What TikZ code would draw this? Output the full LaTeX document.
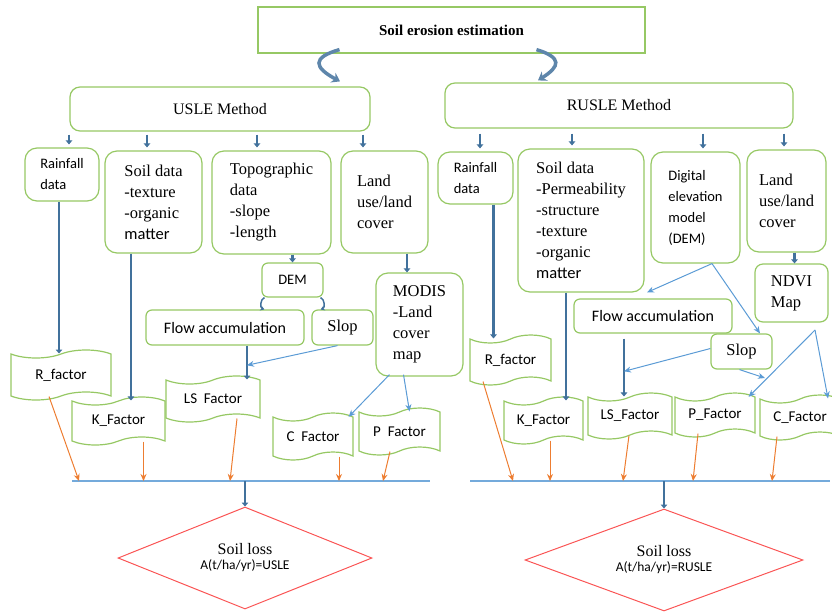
\documentclass[tikz,border=0pt]{standalone}
\usepackage{fontspec}
\setmainfont{Liberation Serif}
\setsansfont{Carlito}
\usetikzlibrary{shapes.geometric,shapes.symbols,arrows.meta}
\definecolor{boxgreen}{RGB}{150,200,100}
\definecolor{fatblue}{RGB}{65,113,156}
\definecolor{linkblue}{RGB}{91,155,213}
\definecolor{feedorange}{RGB}{237,125,49}
\definecolor{lossred}{RGB}{250,85,85}
\newcommand{\boxserif}{\rmfamily\fontsize{16.5}{21}\selectfont}
\newcommand{\boxsans}{\sffamily\fontsize{14.5}{21}\selectfont}

\begin{document}
\begin{tikzpicture}[x=1pt,y=-1pt,
    box/.style={draw=boxgreen, line width=1.2pt, rounded corners=12pt, align=left, inner sep=4pt},
    tapebox/.style={draw=boxgreen, line width=1.2pt, shape=tape, tape bend top=in and out, tape bend bottom=in and out, tape bend height=8pt, font=\sffamily\fontsize{15}{18}\selectfont, inner sep=2pt},
    fat/.style={draw=fatblue, line width=2.6pt, -{Triangle[length=4pt,width=6.5pt]}},
    link/.style={draw=linkblue, line width=1pt, -{Stealth[length=7pt,width=6pt]}},
    feed/.style={draw=feedorange, line width=1pt, -{Stealth[length=7pt,width=6pt]}},
    bus/.style={draw=linkblue!85!white, line width=1.2pt},
    lossbox/.style={draw=lossred, line width=1pt, shape=diamond, aspect=2.5, inner sep=0pt, align=center}]
    \useasboundingbox (0,0) rectangle (832,611);
    % heads
    \node[box, align=center, rounded corners=0pt, minimum width=387pt, minimum height=46pt, font=\rmfamily\bfseries\fontsize{15}{18}\selectfont] (title) at (451.5,30) {Soil erosion estimation};
    \node[box, align=center, rounded corners=10pt, minimum width=300pt, minimum height=44pt, font=\rmfamily\fontsize{16}{20}\selectfont] (usle) at (220,109) {USLE Method};
    \node[box, align=center, rounded corners=10pt, minimum width=348pt, minimum height=45pt, font=\rmfamily\fontsize{16}{20}\selectfont] (rusle) at (619,105.5) {RUSLE Method};
    \draw[draw=fatblue!85!white, line width=3.5pt, -{Stealth[length=8pt,width=11pt]}] ([xshift=-112pt,yshift=4pt]title.south) .. controls +(-28,8) and +(-26,-14) .. ([xshift=120pt,yshift=5pt]usle.north);
    \draw[draw=fatblue!85!white, line width=3.5pt, -{Stealth[length=8pt,width=11pt]}] ([xshift=85pt,yshift=4pt]title.south) .. controls +(26,8) and +(22,-14) .. ([xshift=-81pt,yshift=2pt]rusle.north);

    % USLE inputs
    \node[box, minimum width=74pt, minimum height=53pt, font=\boxsans] (rainL) at (62,174.5) {Rainfall\\data};
    \node[box, minimum width=97pt, minimum height=102pt, font=\boxserif] (soilL) at (153.5,202) {Soil data\\-texture\\-organic\\{\sffamily matter}};
    \node[box, minimum width=119pt, minimum height=103pt, font=\boxserif] (topoL) at (271.5,202.5) {Topographic\\data\\-slope\\-length};
    \node[box, minimum width=87pt, minimum height=102pt, font=\boxserif] (landL) at (384.5,202) {Land\\use/land\\cover};
    \node[box, align=center, rounded corners=6pt, minimum width=61pt, minimum height=34pt, font=\boxsans] (demL) at (292.5,280) {DEM};
    \node[box, align=center, rounded corners=6pt, minimum width=158pt, minimum height=35pt, font=\sffamily\fontsize{16}{20}\selectfont] (flowL) at (225,327.5) {Flow accumulation};
    \node[box, align=center, rounded corners=6pt, minimum width=61pt, minimum height=35pt, font=\boxserif] (slopL) at (342.5,327.5) {Slop};
    \node[box, minimum width=87pt, minimum height=103pt, font=\boxserif] (modis) at (419.5,324.5) {MODIS\\-Land\\cover\\map};

    % USLE factors
    \node[tapebox, minimum width=100pt, minimum height=50pt] (rfL) at (61,375) {R\_factor};
    \node[tapebox, minimum width=93pt, minimum height=48pt] (kfL) at (118.5,421) {K\_Factor};
    \node[tapebox, minimum width=94pt, minimum height=46pt] (lsL) at (213,399) {LS\ \ Factor};
    \node[tapebox, minimum width=80pt, minimum height=47pt] (cfL) at (313,436.5) {C\ \ Factor};
    \node[tapebox, minimum width=81pt, minimum height=47pt] (pfL) at (399.5,431.5) {P\ \ Factor};
    \coordinate (busL) at (72,481);
    \coordinate (busLend) at (430,481);
    \node[lossbox, minimum width=254pt, minimum height=102pt] (lossL) at (245,558) {{\fontsize{16}{18}\selectfont Soil loss}\\[3pt]{\sffamily\fontsize{13.5}{15}\selectfont A(t/ha/yr)=USLE}};

    % RUSLE inputs
    \node[box, minimum width=75pt, minimum height=52pt, font=\boxsans] (rainR) at (475.5,178) {Rainfall\\data};
    \node[box, minimum width=126pt, minimum height=143pt, font=\boxserif] (soilR) at (581,220.5) {Soil data\\-Permeability\\-structure\\-texture\\-organic\\{\sffamily matter}};
    \node[box, minimum width=89pt, minimum height=111pt, font=\boxsans] (digR) at (695.5,207.5) {Digital\\elevation\\model\\(DEM)};
    \node[box, minimum width=79pt, minimum height=102pt, font=\boxserif] (landR) at (786.5,201) {Land\\use/land\\cover};
    \node[box, rounded corners=8pt, minimum width=73pt, minimum height=58pt, font=\boxserif] (ndvi) at (791.5,293) {NDVI\\Map};
    \node[box, align=center, rounded corners=6pt, minimum width=158pt, minimum height=34pt, font=\sffamily\fontsize{16}{20}\selectfont] (flowR) at (653,316) {Flow accumulation};
    \node[box, align=center, rounded corners=6pt, minimum width=61pt, minimum height=35pt, font=\boxserif] (slopR) at (741.5,351.5) {Slop};

    % RUSLE factors
    \node[tapebox, minimum width=81pt, minimum height=50pt] (rfR) at (510.5,360) {R\_factor};
    \node[tapebox, minimum width=79pt, minimum height=47pt] (kfR) at (543.5,420.5) {K\_Factor};
    \node[tapebox, minimum width=84pt, minimum height=46pt] (lsR) at (630,416) {LS\_Factor};
    \node[tapebox, minimum width=80pt, minimum height=44pt] (pfR) at (715,415) {P\_Factor};
    \node[tapebox, minimum width=80pt, minimum height=45pt] (cfR) at (800,417.5) {C\_Factor};
    \coordinate (busR) at (470,481);
    \coordinate (busRend) at (830,481);
    \coordinate (slopEnd) at (765,378);
    \coordinate (ndviFork) at (815,330);
    \node[lossbox, minimum width=278pt, minimum height=102pt] (lossR) at (664,560) {{\fontsize{16}{18}\selectfont Soil loss}\\[3pt]{\sffamily\fontsize{13.5}{15}\selectfont A(t/ha/yr)=RUSLE}};

    % USLE links
    \draw[fat, shorten <=3pt, shorten >=3pt] ([xshift=7pt]rainL.north |- usle.south) -- ([xshift=7pt]rainL.north);
    \draw[fat, shorten <=3pt, shorten >=3pt] ([xshift=-6.5pt]soilL.north |- usle.south) -- ([xshift=-6.5pt]soilL.north);
    \draw[fat, shorten <=3pt, shorten >=3pt] ([xshift=-14.5pt]topoL.north |- usle.south) -- ([xshift=-14.5pt]topoL.north);
    \draw[fat, shorten <=3pt, shorten >=3pt] ([xshift=-21.5pt]landL.north |- usle.south) -- ([xshift=-21.5pt]landL.north);
    \draw[fat] ([xshift=-3pt]rainL.south) -- ([xshift=-3pt]rainL.south |- rfL.north);
    \draw[fat] ([xshift=-22.5pt]soilL.south) -- ([xshift=-22.5pt]soilL.south |- kfL.north);
    \draw[fat] (demL.north |- topoL.south) -- (demL.north);
    \draw[fatblue, line width=1.5pt, -{Stealth[length=4pt,width=5pt]}] ([xshift=3pt]demL.south west) to[bend right=70] ([xshift=3pt]demL.south west |- flowL.north);
    \draw[fatblue, line width=1.5pt, -{Stealth[length=4pt,width=5pt]}] ([xshift=-3pt]demL.south east) to[bend left=70] ([xshift=-3pt]demL.south east |- flowL.north);
    \draw[fat] ([xshift=22pt]flowL.south) -- coordinate[pos=0.58] (lsjoinL) ([xshift=22pt]flowL.south |- lsL.north);
    \draw[link] ([xshift=-5pt]slopL.south) -- (lsjoinL);
    \draw[fat] ([xshift=22.5pt]landL.south) -- ([xshift=22.5pt]landL.south |- modis.north);
    \draw[link] ([xshift=-30pt,yshift=2pt]modis.south) -- ([xshift=-5pt]cfL.north east);
    \draw[link] ([xshift=-16pt,yshift=2pt]modis.south) -- ([xshift=10pt]pfL.north);
    \draw[bus] (busL) -- (busLend);
    \draw[feed] ([xshift=-12pt]rfL.south) -- ([xshift=18pt]rfL.south |- busL);
    \draw[feed] ([xshift=25pt]kfL.south) -- ([xshift=25pt]kfL.south |- busL);
    \draw[feed] ([xshift=24pt]lsL.south) -- ([xshift=17pt]lsL.south |- busL);
    \draw[feed] ([xshift=26pt]cfL.south) -- ([xshift=26pt]cfL.south |- busL);
    \draw[feed] ([xshift=-9.5pt]pfL.south) -- ([xshift=-16.5pt]pfL.south |- busL);
    \draw[fat] (lossL.north |- busL) -- (lossL.north);

    % RUSLE links
    \draw[fat, shorten <=5pt, shorten >=3pt] ([xshift=4.5pt]rainR.north |- rusle.south) -- ([xshift=4.5pt]rainR.north);
    \draw[fat, shorten <=5pt, shorten >=3pt] ([xshift=-9pt]soilR.north |- rusle.south) -- ([xshift=-9pt]soilR.north);
    \draw[fat, shorten <=5pt, shorten >=3pt] ([xshift=7.5pt]digR.north |- rusle.south) -- ([xshift=7.5pt]digR.north);
    \draw[fat, shorten <=5pt, shorten >=3pt] ([xshift=-2.5pt]landR.north |- rusle.south) -- ([xshift=-2.5pt]landR.north);
    \draw[fat] ([xshift=18pt]rainR.south) -- ([xshift=18pt]rainR.south |- rfR.north);
    \draw[fat] ([xshift=-15pt]soilR.south) -- ([xshift=-15pt]soilR.south |- kfR.north);
    \draw[fat] ([xshift=8pt]landR.south) -- ([xshift=8pt]landR.south |- ndvi.north);
    \draw[fat, shorten <=5pt] ([xshift=-29pt]flowR.south) -- coordinate[pos=0.6] (lsjoinR) ([xshift=-29pt]flowR.south |- lsR.north);
    \draw[link] ([xshift=16.5pt]digR.south) -- ([xshift=-6pt,yshift=6pt]flowR.north);
    \draw[link] ([xshift=16.5pt]digR.south) -- ([xshift=18.5pt]slopR.north);
    \draw[link] ([yshift=3pt]slopR.west) -- (lsjoinR);
    \draw[link] ([xshift=-2pt]slopR.south) -- (slopEnd);
    \draw[link] (ndviFork) -- ([xshift=-7pt]pfR.north east);
    \draw[link] (ndviFork) -- ([xshift=28pt]cfR.north);
    \draw[bus] (busR) -- (busRend);
    \draw[feed] ([xshift=-27.5pt]rfR.south) -- ([xshift=2.5pt]rfR.south |- busR);
    \draw[feed] ([xshift=6.5pt]kfR.south) -- ([xshift=6.5pt]kfR.south |- busR);
    \draw[feed] ([xshift=-1pt]lsR.south) -- ([xshift=-7pt]lsR.south |- busR);
    \draw[feed] ([xshift=-17pt]pfR.south) -- ([xshift=-22pt]pfR.south |- busR);
    \draw[feed] ([xshift=-23pt]cfR.south) -- ([xshift=-28pt]cfR.south |- busR);
    \draw[fat] (lossR.north |- busR) -- (lossR.north);
\end{tikzpicture}
\end{document}
